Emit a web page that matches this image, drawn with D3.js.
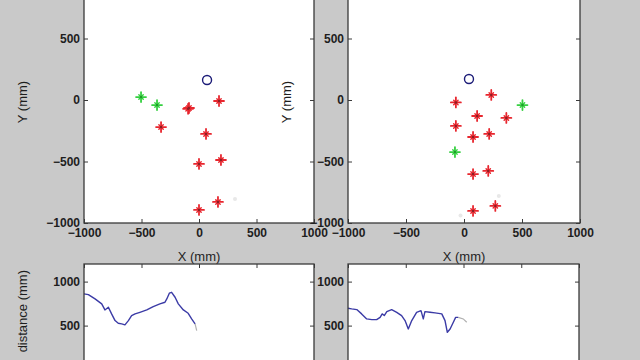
<!DOCTYPE html>
<html><head><meta charset="utf-8">
<script src="https://cdn.jsdelivr.net/npm/d3@7"></script>
<style>
html,body{margin:0;padding:0;background:#c9c9c9;overflow:hidden}
text{font-family:"Liberation Sans",Arial,sans-serif}
</style></head>
<body>
<svg id="c" width="640" height="360"></svg>
<script>
// ---- data ----
const xyTicks = [-1000, -500, 0, 500, 1000];
const distTicks = [0, 500, 1000];

// left top panel
const leftRed = [[-87,-65],[-95,-72],[174,-8],[-330,-220],[61,-276],[191,-488],[0,-520],[165,-829],[0,-894]];
const leftGreen = [[-504,24],[-365,-41]];
const leftBlue = [[70,163]];
const leftFaint = [[313,-805]];

// right top panel
const rightRed = [[235,41],[-70,-20],[113,-130],[365,-146],[-70,-211],[78,-301],[217,-276],[78,-602],[209,-577],[270,-861],[78,-902]];
const rightGreen = [[504,-41],[-78,-423]];
const rightBlue = [[43,171]];
const rightFaint = [[-30,-940],[300,-780]];

// distance traces (time %, distance mm)
const leftT = [0,1.9,4.8,7.7,9.1,10.6,12.0,13.5,14.9,16.4,17.8,19.3,20.7,22.2,24.3,27.3,30.1,33.0,35.2,36.0,37.1,38.1,39.6,41.0,43.2,45.3,46.8,48.3];
const leftD = [860,852,803,747,678,708,633,557,526,519,508,557,614,633,651,678,716,747,765,803,868,878,822,747,678,640,576,519];
const leftTailT = [48.3,49.0];
const leftTailD = [519,443];
const rightT = [0,1.6,3.8,5.9,8.1,10.3,12.4,13.9,14.8,15.7,16.8,18.9,21.1,23.2,24.7,26.1,27.6,29.7,31.6,32.6,33.3,35.5,37.7,40.6,42.0,43.0,44.2,45.6,46.6,47.7];
const rightD = [697,690,682,633,576,568,568,594,633,614,659,682,651,614,557,462,557,651,670,576,659,651,644,633,557,424,462,538,594,594];
const rightTailT = [47.7,49.9,51.4];
const rightTailD = [594,576,538];

// ---- drawing ----
const svg = d3.select("#c");
const axisCol = "#3a3a3a";

function styleAxis(g){
  g.selectAll("path.domain").remove();
  g.selectAll("line").attr("stroke", axisCol).attr("stroke-width",1);
  g.selectAll("text").attr("fill","#1e1e1e").style("font-size","12px").style("font-weight","bold");
}

function panelFrame(x, y){
  const [x0,x1] = x.range(), [y0,y1] = y.range();
  const g = svg.append("g");
  g.append("rect").attr("x",x0).attr("y",y1).attr("width",x1-x0).attr("height",y0-y1).attr("fill","#ffffff");
  return g;
}

function panelAxes(g, x, y, xticks, yticks, showX){
  const [x0,x1] = x.range(), [y0,y1] = y.range();
  const ax = g.append("g").attr("transform",`translate(0,${y0})`)
    .call(d3.axisBottom(x).tickValues(xticks).tickSizeInner(-4).tickSizeOuter(0).tickPadding(5).tickFormat(showX? d3.format("d") : ()=>""));
  styleAxis(ax);
  const at = g.append("g").attr("transform",`translate(0,${y1})`)
    .call(d3.axisTop(x).tickValues(xticks).tickSizeInner(-4).tickSizeOuter(0).tickFormat(()=>""));
  styleAxis(at);
  const al = g.append("g").attr("transform",`translate(${x0},0)`)
    .call(d3.axisLeft(y).tickValues(yticks).tickSizeInner(-4).tickSizeOuter(0).tickPadding(4).tickFormat(d3.format("d")));
  styleAxis(al);
  const ar = g.append("g").attr("transform",`translate(${x1},0)`)
    .call(d3.axisRight(y).tickValues(yticks).tickSizeInner(-4).tickSizeOuter(0).tickFormat(()=>""));
  styleAxis(ar);
  g.append("rect").attr("x",x0).attr("y",y1).attr("width",x1-x0).attr("height",y0-y1)
    .attr("fill","none").attr("stroke",axisCol).attr("stroke-width",1.3);
}

function stars(g, pts, x, y, col, dark){
  const s = g.append("g").attr("stroke",col).attr("stroke-width",1.8).attr("stroke-linecap","round");
  pts.forEach(p=>{
    const cx = x(p[0]), cy = y(p[1]);
    s.append("line").attr("x1",cx-5).attr("x2",cx+5).attr("y1",cy).attr("y2",cy);
    s.append("line").attr("x1",cx).attr("x2",cx).attr("y1",cy-5).attr("y2",cy+5);
    s.append("line").attr("x1",cx-2.2).attr("x2",cx+2.2).attr("y1",cy-2.2).attr("y2",cy+2.2).attr("stroke-width",1.4);
    s.append("line").attr("x1",cx-2.2).attr("x2",cx+2.2).attr("y1",cy+2.2).attr("y2",cy-2.2).attr("stroke-width",1.4);
    g.append("circle").attr("cx",cx).attr("cy",cy).attr("r",1.2).attr("fill",dark);
  });
}

function scatterPanel(x0, x1, red, green, blue, faint){
  const x = d3.scaleLinear().domain([-1000,1000]).range([x0,x1]);
  const y = d3.scaleLinear().domain([-1000,1000]).range([223,-23]);
  const g = panelFrame(x,y);
  g.selectAll("circle.f").data(faint).join("circle").attr("class","f")
    .attr("cx",d=>x(d[0])).attr("cy",d=>y(d[1])).attr("r",2).attr("fill","#e8e8e8");
  stars(g, green, x, y, "#35d040", "#1f9a2a");
  stars(g, red, x, y, "#e8262e", "#8a1f24");
  g.selectAll("circle.b").data(blue).join("circle").attr("class","b")
    .attr("cx",d=>x(d[0])).attr("cy",d=>y(d[1])).attr("r",4.5)
    .attr("fill","none").attr("stroke","#1c1c78").attr("stroke-width",1.4);
  panelAxes(g, x, y, xyTicks, xyTicks, true);
  const xl = (x0+x1)/2;
  g.append("text").attr("x",xl).attr("y",261).attr("text-anchor","middle")
    .style("font-size","13px").attr("fill","#1e1e1e").text("X (mm)");
  g.append("text").attr("transform",`translate(${x0-57},102) rotate(-90)`).attr("text-anchor","middle")
    .style("font-size","13px").attr("fill","#1e1e1e").text("Y (mm)");
}

function distPanel(x0, x1, T, D, tT, tD, showLabel){
  const x = d3.scaleLinear().domain([0,100]).range([x0,x1]);
  const y = d3.scaleLinear().domain([0,1200]).range([369.6,264]);
  const g = panelFrame(x,y);
  const line = d3.line().x(d=>x(d[0])).y(d=>y(d[1]));
  g.append("path").datum(tT.map((t,i)=>[t,tD[i]])).attr("d",line)
    .attr("fill","none").attr("stroke","#b0b0b0").attr("stroke-width",1.2);
  g.append("path").datum(T.map((t,i)=>[t,D[i]])).attr("d",line)
    .attr("fill","none").attr("stroke","#3b3ba6").attr("stroke-width",1.4).attr("stroke-linejoin","round");
  panelAxes(g, x, y, [0,25,50,75,100], distTicks, false);
  if(showLabel){
    g.append("text").attr("transform",`translate(${x0-57},270) rotate(-90)`).attr("text-anchor","end")
      .style("font-size","13px").attr("fill","#1e1e1e").text("distance (mm)");
  }
}

scatterPanel(84, 314, leftRed, leftGreen, leftBlue, leftFaint);
scatterPanel(348, 580, rightRed, rightGreen, rightBlue, rightFaint);
distPanel(84, 314, leftT, leftD, leftTailT, leftTailD, true);
distPanel(348, 579, rightT, rightD, rightTailT, rightTailD, false);
</script>
</body></html>
